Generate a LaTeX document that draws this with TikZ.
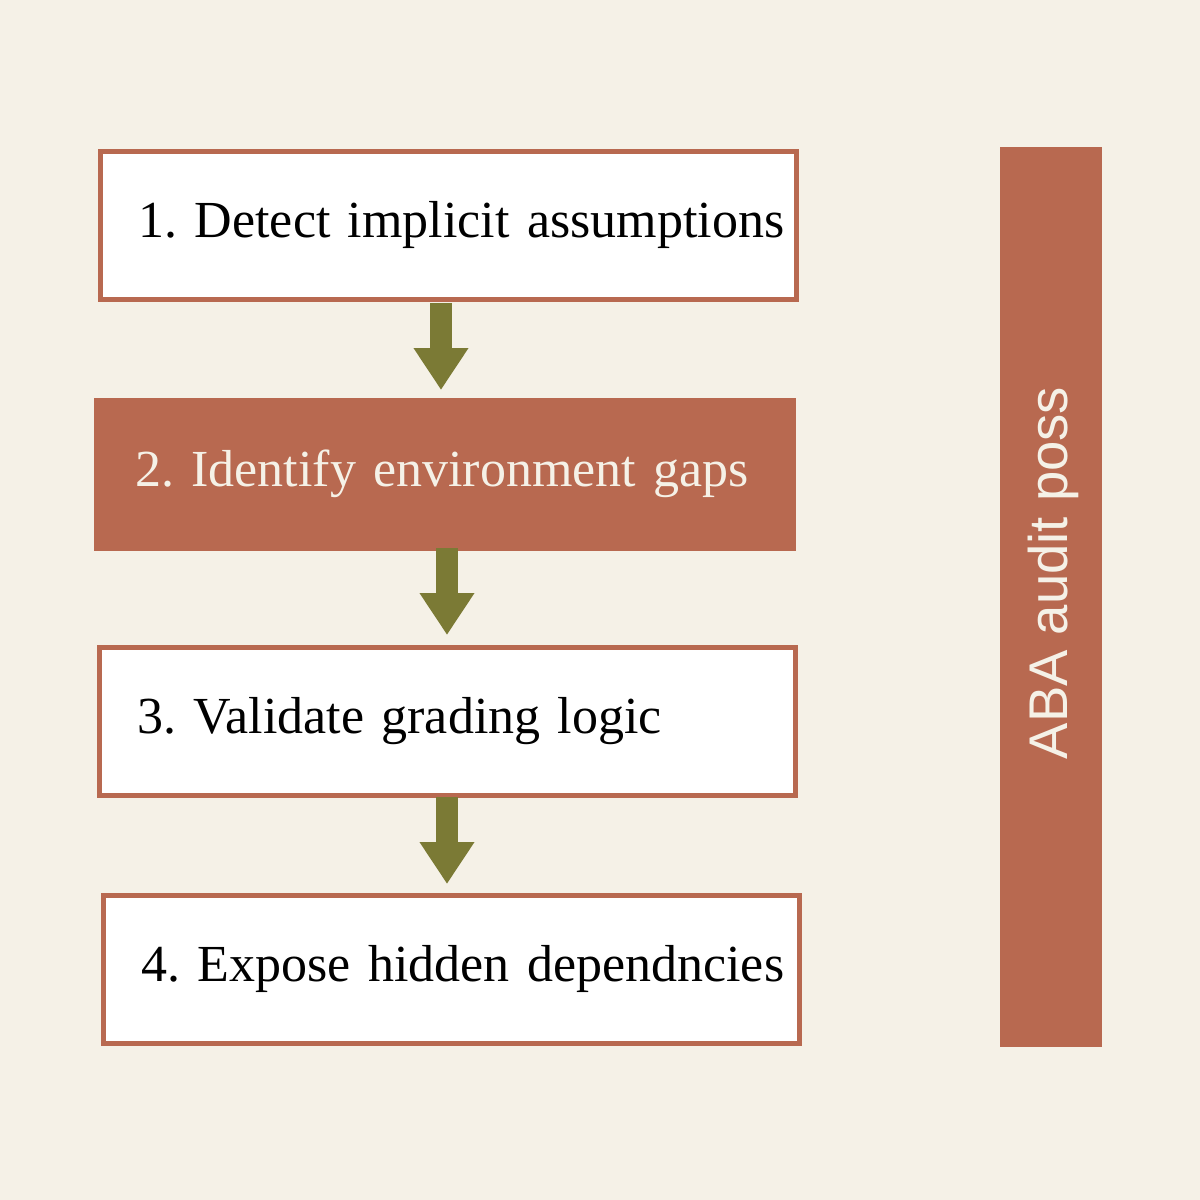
\documentclass[tikz,border=0pt]{standalone}
\usepackage{fontspec}
\setmainfont{Liberation Serif}
\setsansfont{Liberation Sans}
\usetikzlibrary{arrows.meta}
\definecolor{paper}{HTML}{F5F1E7}
\definecolor{rust}{HTML}{B86950}
\definecolor{olive}{HTML}{7B7A35}
\tikzset{
  stepbox/.style={rectangle, draw=rust, line width=0.05cm, fill=white, text width=6.2cm, inner xsep=0.38cm, minimum height=1.48cm, align=left, font=\fontsize{14.8}{18}\selectfont\frenchspacing},
  stepfill/.style={stepbox, fill=rust, text=paper},
  flow/.style={draw=olive, line width=0.22cm, -{Triangle[width=0.52cm,length=0.42cm]}}
}
\begin{document}
\begin{tikzpicture}
\fill[paper] (0,0) rectangle (12,-12);
\useasboundingbox (0,0) rectangle (12,-12);
\node[stepbox] (1) at (4.485,-2.25) {\mbox{1. Detect implicit assumptions}};
\node[stepfill] (2) at (4.45,-4.74) {\mbox{2. Identify environment gaps}};
\node[stepbox] (3) at (4.475,-7.215) {\mbox{3. Validate grading logic}};
\node[stepbox] (4) at (4.515,-9.69) {\mbox{4. Expose hidden dependncies}};

\draw[flow] (4.41,-3.03) -- (4.41,-3.9);
\draw[flow] (4.47,-5.48) -- (4.47,-6.35);
\draw[flow] (4.47,-7.97) -- (4.47,-8.84);

\node[rectangle, fill=rust, minimum width=1.02cm, minimum height=9cm, inner sep=0pt] (5) at (10.51,-5.97) {};
\node[rotate=90, text=paper, font=\sffamily\fontsize{15.5}{18}\selectfont] (6) at (10.53,-5.73) {ABA audit poss};
\end{tikzpicture}
\end{document}
